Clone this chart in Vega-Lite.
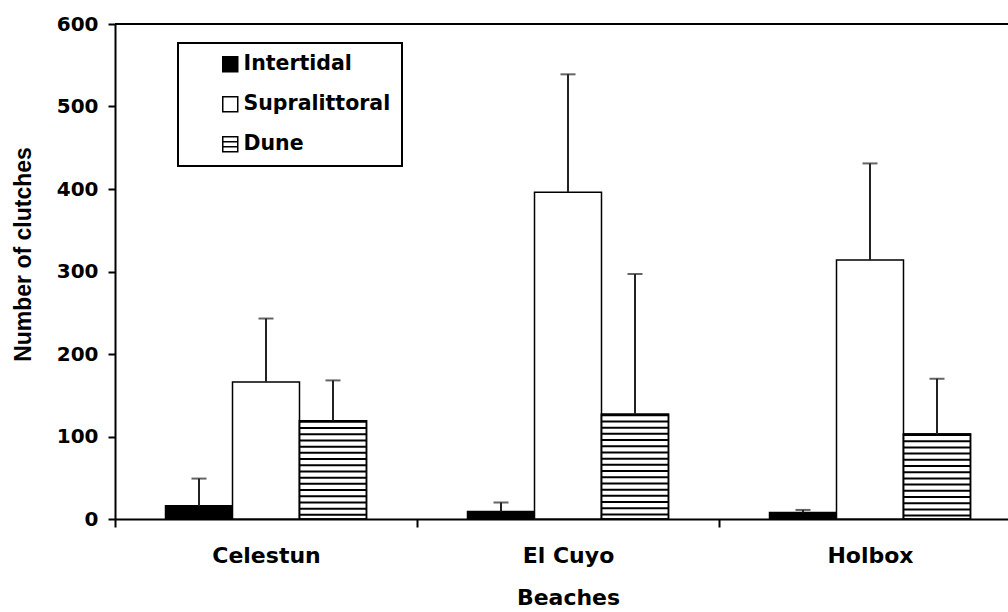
{
  "$schema": "https://vega.github.io/schema/vega-lite/v6.json",
  "width": 893,
  "height": 495,
  "autosize": {"type": "none"},
  "padding": {"left": 115, "top": 24, "right": 0, "bottom": 93},
  "background": "white",
  "config": {
    "view": {"stroke": null},
    "font": "DejaVu Sans",
    "legend": {"strokeWidth": 2, "title": null, "orient": "none", "legendX": 63, "legendY": 19, "strokeColor": "#000", "fillColor": "#fff", "padding": 11, "rowPadding": 18, "symbolSize": 225, "symbolStrokeColor": "#000", "symbolStrokeWidth": 1.5, "symbolOpacity": 1, "symbolOffset": 31, "labelOffset": 3, "labelFont": "DejaVu Sans", "labelFontSize": 20.5, "labelFontWeight": "bold", "labelColor": "#000", "labelLimit": 300},
    "axis": {"grid": false, "domainColor": "#000", "domainWidth": 2, "tickColor": "#000", "tickWidth": 2, "labelColor": "#000", "titleColor": "#000", "labelFont": "DejaVu Sans", "labelFontWeight": "bold", "titleFont": "DejaVu Sans", "titleFontWeight": "bold"}
  },
  "data": {
    "values": [
      {"site": "Celestun", "zone": "Intertidal", "value": 16, "upper": 49},
      {"site": "Celestun", "zone": "Supralittoral", "value": 166, "upper": 243},
      {"site": "Celestun", "zone": "Dune", "value": 119, "upper": 168},
      {"site": "El Cuyo", "zone": "Intertidal", "value": 9, "upper": 20},
      {"site": "El Cuyo", "zone": "Supralittoral", "value": 396, "upper": 539},
      {"site": "El Cuyo", "zone": "Dune", "value": 127, "upper": 297},
      {"site": "Holbox", "zone": "Intertidal", "value": 8, "upper": 11},
      {"site": "Holbox", "zone": "Supralittoral", "value": 314, "upper": 431},
      {"site": "Holbox", "zone": "Dune", "value": 103, "upper": 170}
    ]
  },
  "layer": [
    {
      "mark": {"type": "bar", "stroke": "#000", "strokeWidth": 1.5},
      "encoding": {
        "x": {"field": "site", "type": "nominal", "sort": ["Celestun", "El Cuyo", "Holbox"], "title": "Beaches",
          "scale": {"range": [0, 906], "paddingInner": 0, "paddingOuter": 0},
          "axis": {"labelAngle": 0, "tickBand": "extent", "tickSize": 8, "labelFontSize": 22, "labelPadding": 18, "titleFontSize": 22, "titlePadding": 21}},
        "xOffset": {"field": "zone", "type": "nominal", "sort": ["Intertidal", "Supralittoral", "Dune"],
          "scale": {"domain": ["Intertidal", "Supralittoral", "Dune"], "paddingInner": 0, "paddingOuter": 0.754}},
        "y": {"field": "value", "type": "quantitative", "title": "Number of clutches",
          "scale": {"domain": [0, 600], "nice": false},
          "axis": {"values": [0, 100, 200, 300, 400, 500, 600], "tickSize": 7, "labelFontSize": 20, "labelPadding": 10, "titleFont": "Liberation Sans", "titleFontSize": 23, "titleX": -80, "titleY": 230}},
        "fill": {"field": "zone", "type": "nominal",
          "scale": {"domain": ["Intertidal", "Supralittoral", "Dune"], "range": ["#000000", "#ffffff", "#ffffff"]}}
      }
    },
    {
      "transform": [{"filter": "datum.zone === 'Dune'"}],
      "mark": {"type": "rule", "color": "#000", "strokeWidth": 66, "strokeDash": [2, 4.2], "strokeCap": "butt"},
      "encoding": {
        "x": {"field": "site", "type": "nominal", "sort": ["Celestun", "El Cuyo", "Holbox"]},
        "xOffset": {"field": "zone", "type": "nominal", "sort": ["Intertidal", "Supralittoral", "Dune"]},
        "y": {"field": "value", "type": "quantitative"},
        "y2": {"datum": 0}
      }
    },
    {
      "transform": [{"filter": "datum.zone === 'Dune'"}],
      "mark": {"type": "bar", "fillOpacity": 0, "stroke": "#000", "strokeWidth": 1.5},
      "encoding": {
        "x": {"field": "site", "type": "nominal", "sort": ["Celestun", "El Cuyo", "Holbox"]},
        "xOffset": {"field": "zone", "type": "nominal", "sort": ["Intertidal", "Supralittoral", "Dune"]},
        "y": {"field": "value", "type": "quantitative"}
      }
    },
    {
      "mark": {"type": "rule", "color": "#222", "strokeWidth": 2},
      "encoding": {
        "x": {"field": "site", "type": "nominal", "sort": ["Celestun", "El Cuyo", "Holbox"]},
        "xOffset": {"field": "zone", "type": "nominal", "sort": ["Intertidal", "Supralittoral", "Dune"]},
        "y": {"field": "value", "type": "quantitative"},
        "y2": {"field": "upper"}
      }
    },
    {
      "mark": {"type": "tick", "color": "#222", "size": 15, "thickness": 2},
      "encoding": {
        "x": {"field": "site", "type": "nominal", "sort": ["Celestun", "El Cuyo", "Holbox"]},
        "xOffset": {"field": "zone", "type": "nominal", "sort": ["Intertidal", "Supralittoral", "Dune"]},
        "y": {"field": "upper", "type": "quantitative"}
      }
    },
    {
      "mark": {"type": "rule", "color": "#000", "strokeWidth": 2},
      "encoding": {"y": {"datum": 600, "type": "quantitative"}}
    },
    {
      "mark": {"type": "point", "filled": true, "opacity": 0, "stroke": "#000", "strokeWidth": 1.5},
      "encoding": {
        "x": {"field": "site", "type": "nominal", "sort": ["Celestun", "El Cuyo", "Holbox"]},
        "xOffset": {"field": "zone", "type": "nominal", "sort": ["Intertidal", "Supralittoral", "Dune"]},
        "y": {"field": "value", "type": "quantitative"},
        "fill": {"field": "zone", "type": "nominal",
          "legend": {"title": null, "encode": {"symbols": {"update": {"stroke": {"value": "#000000"}, "strokeWidth": {"value": 1.5}, "strokeOpacity": {"value": 1}}}}}},
        "shape": {"field": "zone", "type": "nominal",
          "scale": {"domain": ["Intertidal", "Supralittoral", "Dune"], "range": ["square", "square", "M-1,-1H1V1H-1Z M-1,-0.33H1 M-1,0.33H1"]},
          "legend": {"title": null}}
      }
    }
  ]
}
